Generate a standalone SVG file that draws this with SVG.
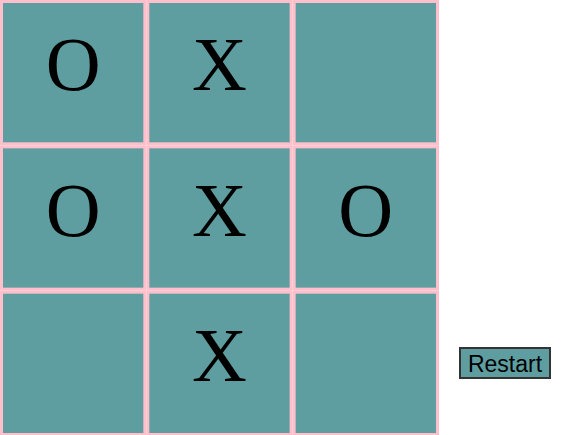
<svg xmlns="http://www.w3.org/2000/svg" width="567" height="435" viewBox="0 0 567 435">
<style>
.cell{fill:#5F9EA0;stroke:#FFC0CB;stroke-width:3}
.mark{font-family:"Liberation Serif","Times New Roman",serif;font-size:76px;fill:#000;text-anchor:middle}
.btn{fill:#5F9EA0;stroke:#333;stroke-width:2}
.btxt{font-family:"Liberation Sans",Arial,sans-serif;font-size:23px;fill:#000;text-anchor:middle}
</style>
<rect width="567" height="435" fill="#fff"/>
<g id="cell-0-0"><rect class="cell" x="1.5" y="1.5" width="143.33" height="142.33"/><text class="mark" x="73.2" y="90">O</text></g>
<g id="cell-0-1"><rect class="cell" x="147.83" y="1.5" width="143.33" height="142.33"/><text class="mark" x="219.5" y="90">X</text></g>
<g id="cell-0-2"><rect class="cell" x="294.17" y="1.5" width="143.33" height="142.33"/></g>
<g id="cell-1-0"><rect class="cell" x="1.5" y="146.83" width="143.33" height="142.33"/><text class="mark" x="73.2" y="235.5">O</text></g>
<g id="cell-1-1"><rect class="cell" x="147.83" y="146.83" width="143.33" height="142.33"/><text class="mark" x="219.5" y="235.5">X</text></g>
<g id="cell-1-2"><rect class="cell" x="294.17" y="146.83" width="143.33" height="142.33"/><text class="mark" x="365.8" y="235.5">O</text></g>
<g id="cell-2-0"><rect class="cell" x="1.5" y="292.17" width="143.33" height="142.33"/></g>
<g id="cell-2-1"><rect class="cell" x="147.83" y="292.17" width="143.33" height="142.33"/><text class="mark" x="219.5" y="381">X</text></g>
<g id="cell-2-2"><rect class="cell" x="294.17" y="292.17" width="143.33" height="142.33"/></g>
<g id="connectors"></g>
<g id="restart"><rect class="btn" x="460" y="348" width="90" height="30"/><text class="btxt" x="505" y="372">Restart</text></g>
</svg>
